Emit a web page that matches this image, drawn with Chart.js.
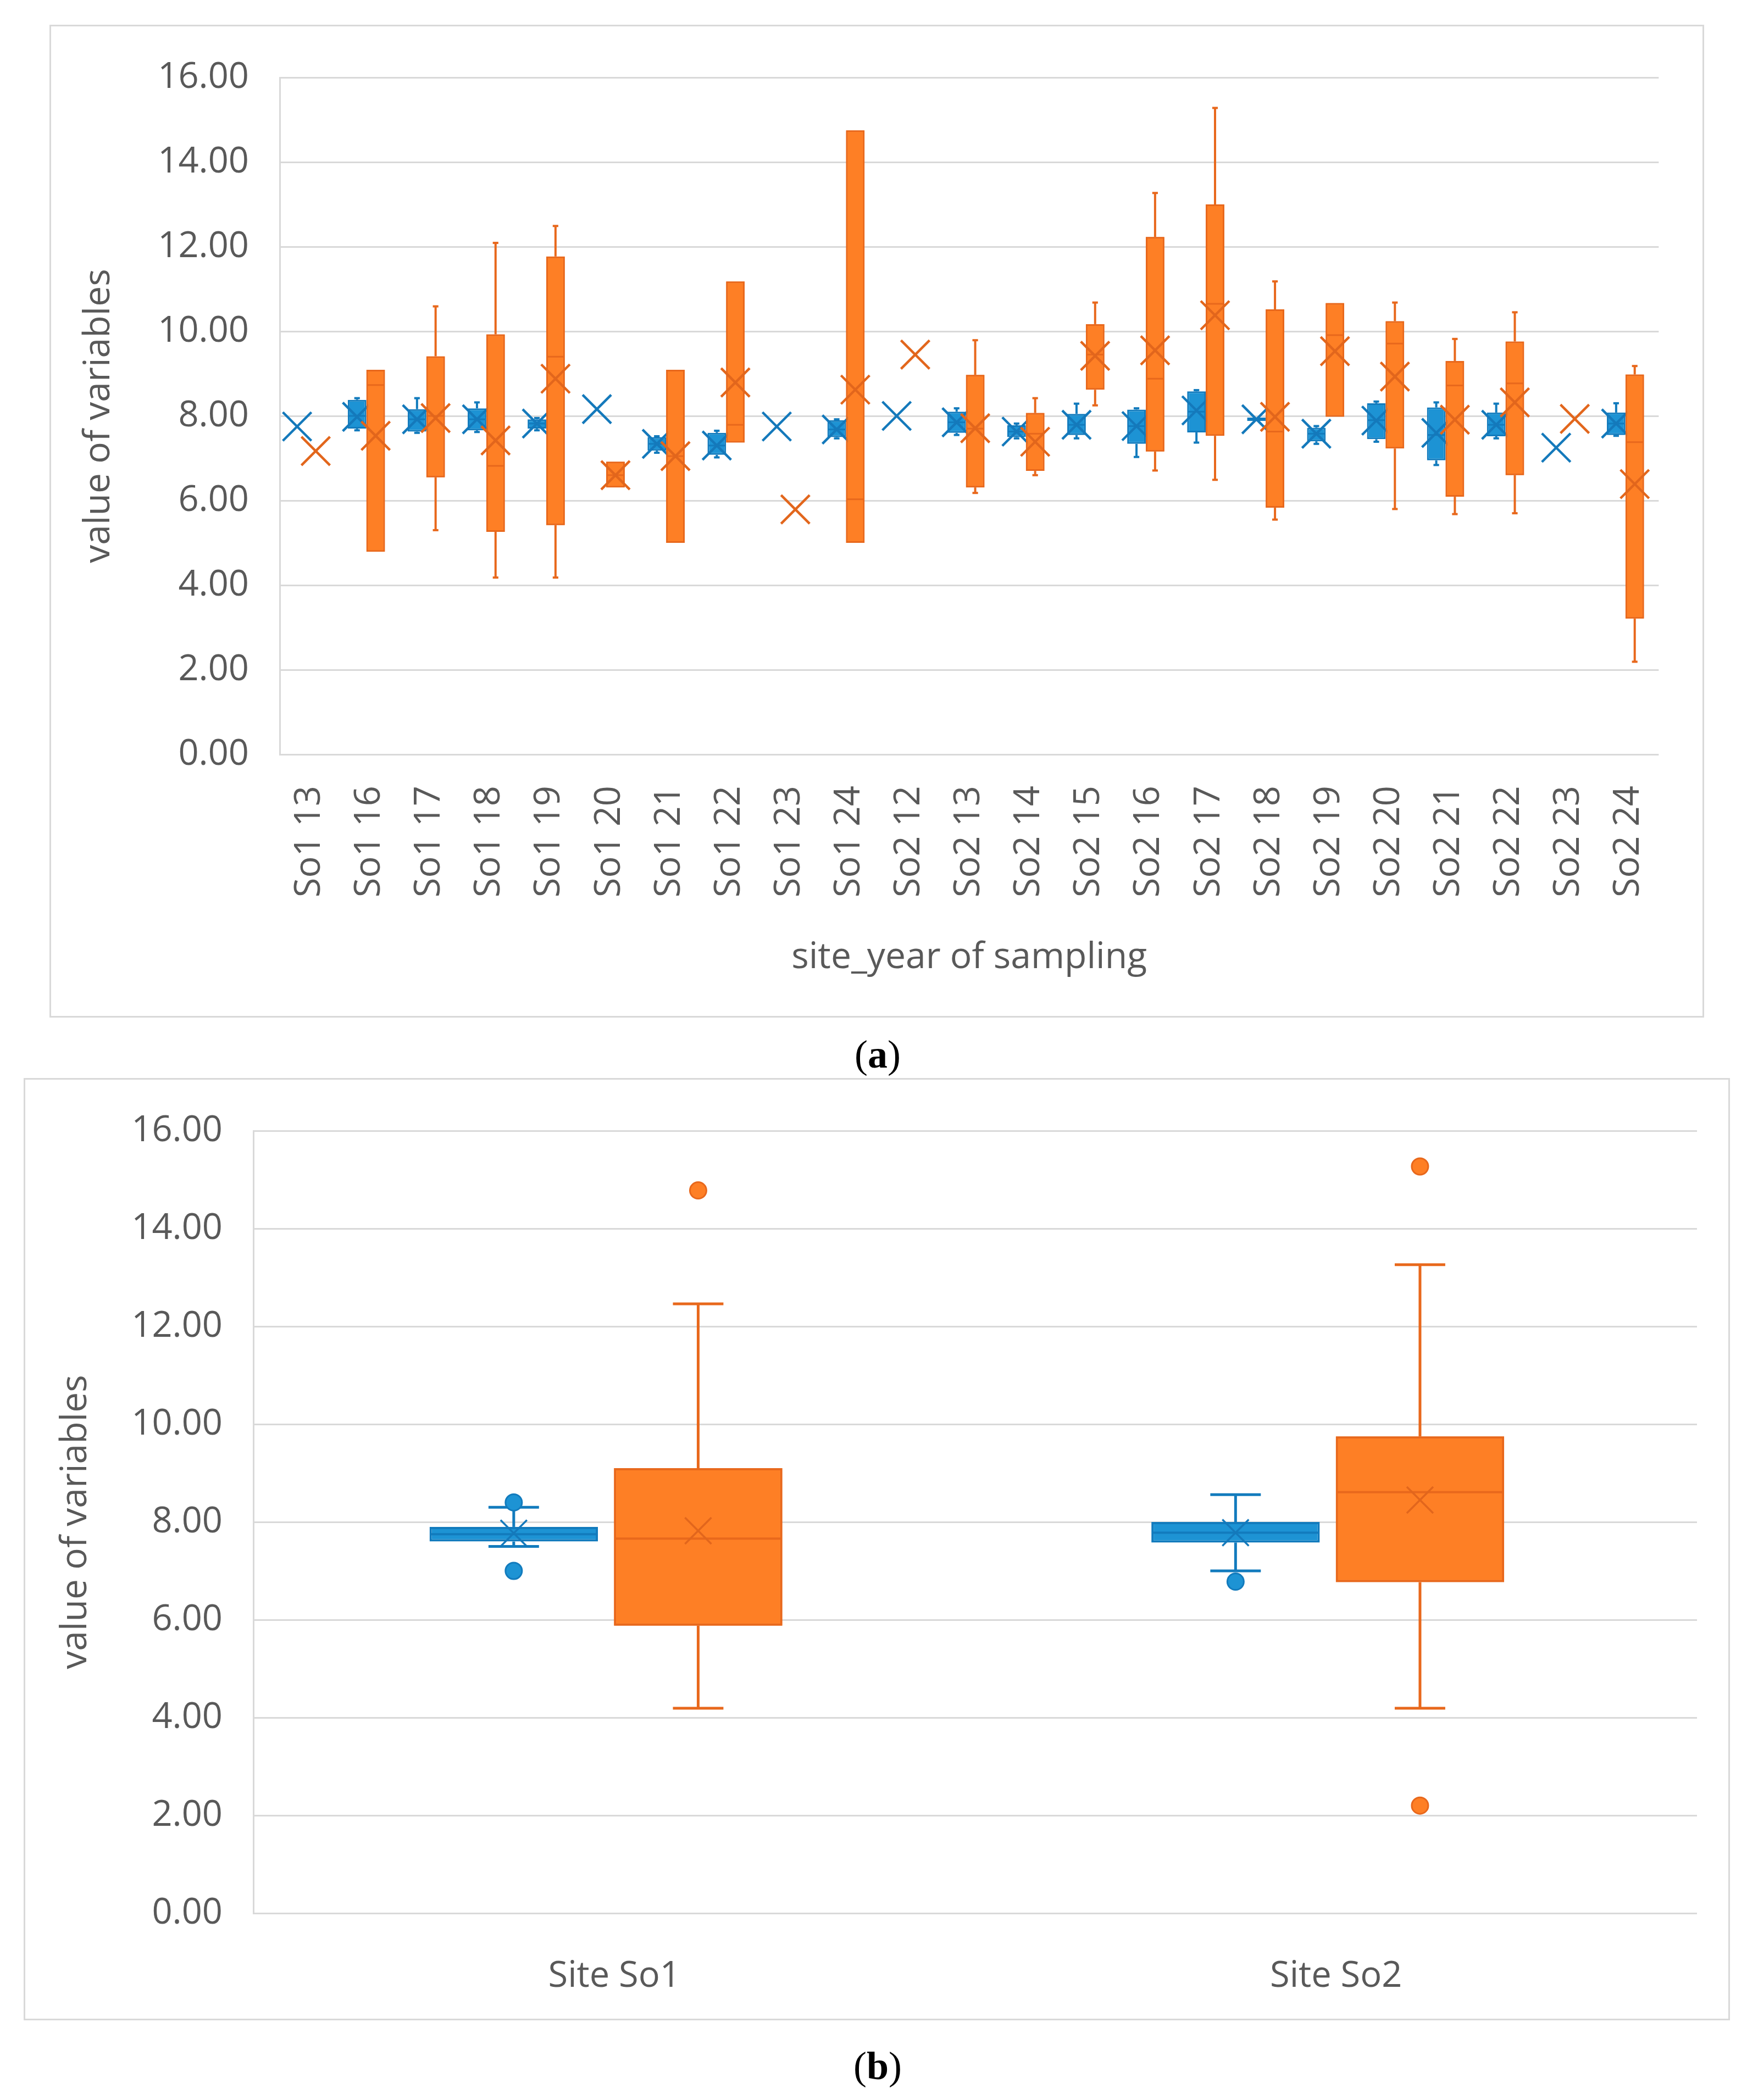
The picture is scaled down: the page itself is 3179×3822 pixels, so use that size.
<!DOCTYPE html>
<html><head><meta charset="utf-8">
<script src="https://cdn.jsdelivr.net/npm/chart.js@4.4.1/dist/chart.umd.min.js"></script>
<style>
html,body{margin:0;padding:0;background:#fff;}
body{width:3179px;height:3822px;position:relative;overflow:hidden;}
.frame{position:absolute;border:3px solid #d9d9d9;box-sizing:border-box;}
canvas{position:absolute;}
.cap{position:absolute;left:0;width:3194px;text-align:center;font-family:"Liberation Serif","DejaVu Serif",serif;font-size:72px;line-height:72px;color:#000;}
</style></head><body>
<div class="frame" style="left:90px;top:45px;width:3011px;height:1807px"></div>
<canvas id="ca" width="3009" height="1805" style="left:91px;top:46px"></canvas>
<div class="cap" style="top:1883px">(<b>a</b>)</div>
<div class="frame" style="left:43px;top:1962px;width:3105px;height:1715px"></div>
<canvas id="cb" width="3103" height="1712" style="left:44px;top:1963px"></canvas>
<div class="cap" style="top:3724px">(<b>b</b>)</div>
<script>
// ---------- data: chart (a) ----------
const catsA = ['So1 13','So1 16','So1 17','So1 18','So1 19','So1 20','So1 21','So1 22','So1 23','So1 24',
  'So2 12','So2 13','So2 14','So2 15','So2 16','So2 17','So2 18','So2 19','So2 20','So2 21','So2 22','So2 23','So2 24'];
const blueMinA  = [7.75,7.66,7.60,7.62,7.66,8.16,7.13,7.02,7.75,7.47,8.00,7.55,7.47,7.47,7.03,7.37,7.88,7.34,7.39,6.84,7.47,7.25,7.53];
const blueQ1A   = [7.75,7.70,7.63,7.66,7.70,8.16,7.18,7.08,7.75,7.50,8.00,7.60,7.50,7.55,7.34,7.61,7.88,7.40,7.45,6.95,7.52,7.25,7.55];
const blueMedA  = [7.75,8.00,7.92,7.92,7.82,8.16,7.34,7.30,7.75,7.68,8.00,7.85,7.63,7.79,7.76,8.10,7.92,7.58,7.90,7.55,7.79,7.25,7.82];
const blueQ3A   = [7.75,8.38,8.16,8.18,7.92,8.16,7.50,7.60,7.75,7.90,8.00,8.10,7.78,8.05,8.15,8.58,7.96,7.72,8.30,8.20,8.08,7.25,8.08];
const blueMaxA  = [7.75,8.42,8.42,8.32,7.95,8.16,7.52,7.65,7.75,7.92,8.00,8.18,7.82,8.29,8.18,8.61,7.96,7.76,8.34,8.32,8.29,7.25,8.30];
const blueMeanA = [7.75,7.98,7.92,7.92,7.82,8.16,7.34,7.30,7.75,7.68,8.00,7.85,7.63,7.79,7.76,8.13,7.92,7.58,7.89,7.60,7.79,7.25,7.82];
const orangeMinA  = [7.17,4.79,5.30,4.18,4.18,6.31,5.00,7.37,5.79,5.00,9.45,6.18,6.60,8.25,6.71,6.49,5.55,7.98,5.80,5.68,5.70,7.93,2.19];
const orangeQ1A   = [7.17,4.79,6.55,5.26,5.42,6.31,5.00,7.37,5.79,5.00,9.45,6.31,6.70,8.62,7.16,7.53,5.83,7.98,7.23,6.09,6.60,7.93,3.21];
const orangeMedA  = [7.17,8.73,8.00,6.82,9.40,6.60,7.05,7.79,5.79,6.03,9.45,7.70,7.58,9.45,8.88,10.65,7.63,9.91,9.71,8.72,8.77,7.93,7.38];
const orangeQ3A   = [7.17,9.09,9.41,9.93,11.77,6.92,9.09,11.18,5.79,14.75,9.45,8.97,8.07,10.17,12.23,13.00,10.52,10.67,10.24,9.30,9.76,7.93,8.98];
const orangeMaxA  = [7.17,9.09,10.59,12.09,12.49,6.92,9.09,11.18,5.79,14.75,9.45,9.79,8.42,10.68,13.27,15.28,11.18,10.67,10.68,9.82,10.45,7.93,9.18];
const orangeMeanA = [7.17,7.53,7.95,7.42,8.88,6.60,7.05,8.79,5.79,8.62,9.45,7.71,7.39,9.42,9.55,10.38,7.98,9.53,8.93,7.91,8.32,7.93,6.39];

// ---------- data: chart (b) ----------
const catsB = ['Site So1','Site So2'];
const blueMinB  = [7.50,7.00];
const blueQ1B   = [7.60,7.58];
const blueMedB  = [7.75,7.78];
const blueQ3B   = [7.90,8.00];
const blueMaxB  = [8.30,8.56];
const blueMeanB = [7.77,7.78];
const blueOutB  = [[8.40,7.00],[6.78]];
const orangeMinB  = [4.19,4.19];
const orangeQ1B   = [5.88,6.77];
const orangeMedB  = [7.66,8.61];
const orangeQ3B   = [9.10,9.75];
const orangeMaxB  = [12.46,13.26];
const orangeMeanB = [7.82,8.45];
const orangeOutB  = [[14.78],[15.27,2.20]];

const yTickValues = [0,2,4,6,8,10,12,14,16];

// ---------- styles ----------
const BLUE = {fill:'#1d93d4', border:'#127bbd', mean:'#1479bb'};
const ORANGE = {fill:'#fe7f25', border:'#e8681c', mean:'#e2661c'};
const TXT = '#595959';
const GRID = '#d9d9d9';
Chart.defaults.font.family = "'Open Sans', sans-serif";
Chart.defaults.color = TXT;

const boxExtras = {
  id: 'boxExtras',
  afterDatasetsDraw(chart, args, o) {
    const ctx = chart.ctx, ys = chart.scales.y;
    chart.data.datasets.forEach((ds, di) => {
      const meta = chart.getDatasetMeta(di);
      const st = ds.stats, col = ds.colors;
      meta.data.forEach((el, i) => {
        if (di > 0) el.draw(ctx);
        const {x, width} = el.getProps(['x','width'], true);
        const p = v => ys.getPixelForValue(v);
        ctx.save();
        ctx.strokeStyle = col.border;
        ctx.lineCap = 'butt';
        ctx.lineWidth = o.whisker;
        const cw = width * 0.3 / 2;
        const seg = (x1,y1,x2,y2) => {ctx.beginPath();ctx.moveTo(x1,y1);ctx.lineTo(x2,y2);ctx.stroke();};
        if (st.max[i] > st.q3[i]) { seg(x,p(st.q3[i]),x,p(st.max[i])); seg(x-cw,p(st.max[i]),x+cw,p(st.max[i])); }
        if (st.min[i] < st.q1[i]) { seg(x,p(st.q1[i]),x,p(st.min[i])); seg(x-cw,p(st.min[i]),x+cw,p(st.min[i])); }
        if (st.q3[i] > st.q1[i]) { ctx.lineWidth = o.median; seg(x-width/2+o.border/2,p(st.med[i]),x+width/2-o.border/2,p(st.med[i])); }
        // mean marker (X)
        const my = p(st.mean[i]), r = o.meanR;
        ctx.strokeStyle = col.mean; ctx.lineWidth = o.meanW;
        seg(x-r,my-r,x+r,my+r); seg(x-r,my+r,x+r,my-r);
        // outliers
        if (st.out) (st.out[i]||[]).forEach(v => {
          ctx.beginPath(); ctx.arc(x, p(v), o.dotR, 0, Math.PI*2);
          ctx.fillStyle = col.fill; ctx.fill();
          ctx.lineWidth = 3; ctx.strokeStyle = col.border; ctx.stroke();
        });
        ctx.restore();
      });
    });
  }
};

// groupShift: Excel draws the pair of boxes slightly left of the category centre
function series(label, min, q1, med, q3, max, mean, out, col, bw, groupShift) {
  return {
    label, data: q1.map((v,i) => ({x: i + groupShift, y: [v, q3[i]]})),
    stats: {min, q1, med, q3, max, mean, out}, colors: col,
    backgroundColor: col.fill, borderColor: col.border, borderWidth: bw, borderSkipped: false
  };
}

function makeChart(id, cats, ds, L) {
  return new Chart(document.getElementById(id), {
    type: 'bar',
    data: {datasets: ds},
    plugins: [boxExtras],
    options: {
      responsive: false, animation: false, devicePixelRatio: 1,
      categoryPercentage: L.cp, barPercentage: L.bp,
      layout: {padding: L.pad},
      plugins: {legend: {display: false}, tooltip: {enabled: false}, boxExtras: L.box},
      scales: {
        x: {
          type: 'linear', min: -0.5, max: cats.length - 0.5, offset: false,
          afterBuildTicks: s => { s.ticks = cats.map((c, i) => ({value: i})); },
          grid: {display: false, drawTicks: false, offset: false}, border: {display: false},
          ticks: {autoSkip: false, minRotation: L.rot, maxRotation: L.rot, padding: L.xPad, font: {size: 65}, color: TXT,
                  callback: (v, i) => cats[i]},
          title: L.xTitle ? {display: true, text: L.xTitle, font: {size: 66}, color: TXT, padding: {top: 0, bottom: L.xTitlePad}} : {display: false},
          afterFit: s => { s.height = L.xH; }
        },
        y: {
          min: 0, max: 16,
          afterBuildTicks: s => { s.ticks = yTickValues.map(v => ({value: v})); },
          grid: {color: GRID, lineWidth: 3, drawTicks: false},
          border: {display: true, color: GRID, width: 3},
          ticks: {padding: L.yPad, font: {size: 65}, color: TXT, callback: v => Number(v).toFixed(2)},
          title: {display: true, text: 'value of variables', font: {size: 66}, color: TXT, padding: {top: L.yTitlePad, bottom: 0}},
          afterFit: s => { s.width = L.yW; }
        }
      }
    }
  });
}

makeChart('ca', catsA, [
  series('Site So1', blueMinA, blueQ1A, blueMedA, blueQ3A, blueMaxA, blueMeanA, null, BLUE, 3, -0.055),
  series('Site So2', orangeMinA, orangeQ1A, orangeMedA, orangeQ3A, orangeMaxA, orangeMeanA, null, ORANGE, 3, -0.055)
], {cp: 0.62, bp: 1.0, pad: {left: 0, top: 87, right: 56, bottom: 0}, rot: 90, xPad: 57, xH: 478,
    xTitle: 'site_year of sampling', xTitlePad: 68, yPad: 56, yW: 418, yTitlePad: 50,
    box: {whisker: 4, median: 3, border: 3, meanR: 26, meanW: 4.5, dotR: 12}});

makeChart('cb', catsB, [
  series('Site So1', blueMinB, blueQ1B, blueMedB, blueQ3B, blueMaxB, blueMeanB, blueOutB, BLUE, 4, -0.0115),
  series('Site So2', orangeMinB, orangeQ1B, orangeMedB, orangeQ3B, orangeMaxB, orangeMeanB, orangeOutB, ORANGE, 4, -0.0115)
], {cp: 0.511, bp: 0.913, pad: {left: 0, top: 88, right: 59, bottom: 0}, rot: 0, xPad: 76, xH: 193,
    xTitle: null, xTitlePad: 0, yPad: 56, yW: 417, yTitlePad: 55,
    box: {whisker: 5, median: 4, border: 4, meanR: 24, meanW: 3.5, dotR: 15}});
</script>
</body></html>
